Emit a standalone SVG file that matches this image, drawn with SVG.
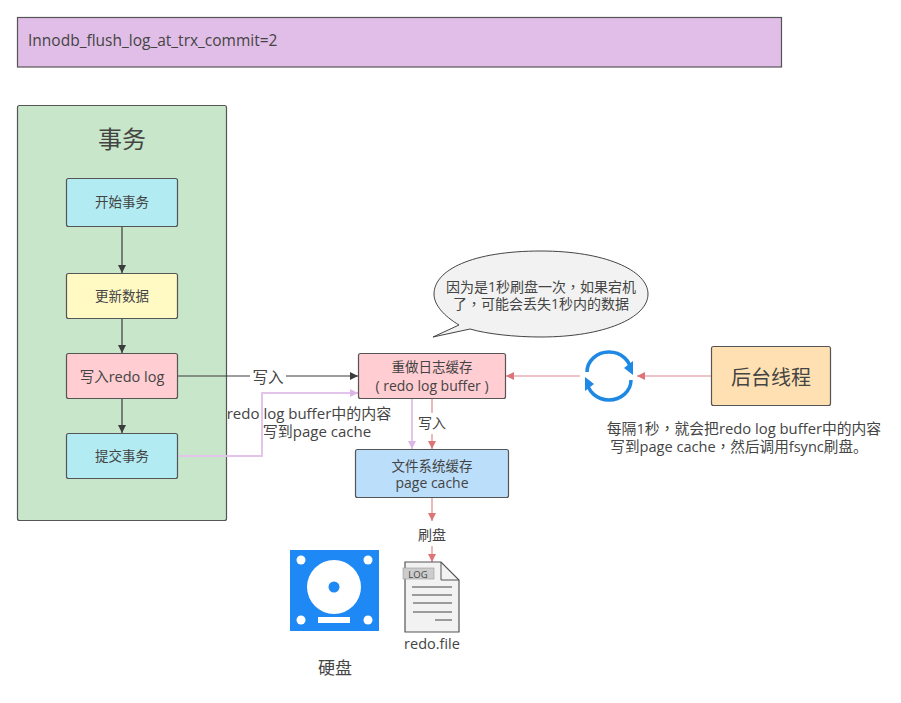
<svg xmlns="http://www.w3.org/2000/svg" width="901" height="703" viewBox="0 0 901 703">
<style>
text{font-family:"Open Sans","Noto Sans CJK SC",sans-serif;fill:#444;text-anchor:middle;font-size:13.500px}
.tc{font-family:"Noto Sans CJK TC",sans-serif}
.l{font-size:15px}
.m{font-size:14px}
.box{stroke:#555;stroke-width:1.200}
.c{fill:none;stroke-width:1.200}
.d{stroke:#3c3c3c}.r{stroke:#e08a8e}.p{stroke:#e3c4ea;stroke-width:2}
</style>
<defs>
<marker id="ad" markerWidth="9" markerHeight="9" refX="8" refY="4" orient="auto" markerUnits="userSpaceOnUse"><path d="M0 0L8 4L0 8Z" fill="#3c3c3c"/></marker>
<marker id="ar" markerWidth="9" markerHeight="9" refX="8" refY="4" orient="auto" markerUnits="userSpaceOnUse"><path d="M0 0L8 4L0 8Z" fill="#dd7478"/></marker>
<marker id="ap" markerWidth="9" markerHeight="9" refX="8" refY="4" orient="auto" markerUnits="userSpaceOnUse"><path d="M0 0L8 4L0 8Z" fill="#dcb6e6"/></marker>
</defs>
<rect width="901" height="703" fill="#fff"/>
<g id="title"><rect class="box" x="17.500" y="17.500" width="764" height="49.500" fill="#e1bee7"/><text x="28" y="46" style="text-anchor:start;font-size:15.500px">Innodb_flush_log_at_trx_commit=2</text></g>
<g id="txn"><rect class="box" x="17.500" y="105.500" width="209" height="415" rx="2" fill="#c8e6c9"/><text x="122" y="148" style="font-size:24px">事务</text></g>
<g id="connectors">
<path class="c d" d="M122 227V273" marker-end="url(#ad)"/>
<path class="c d" d="M122 318V353" marker-end="url(#ad)"/>
<path class="c d" d="M122 398V433" marker-end="url(#ad)"/>
<path class="c d" d="M178 376H250M286 376H358" marker-end="url(#ad)"/>
<path class="c p" d="M178 456H262V393H358" marker-end="url(#ap)"/>
<path class="c p" d="M412 398V449" marker-end="url(#ap)"/>
<path class="c r" d="M432 398V413M432 434V449" marker-end="url(#ar)"/>
<path class="c r" d="M432 498V521" marker-end="url(#ar)"/>
<path class="c r" d="M432 546V562" marker-end="url(#ar)"/>
<path class="c r" d="M580 376H506" marker-end="url(#ar)"/>
<path class="c r" d="M711 376H637" marker-end="url(#ar)"/>
</g>
<g id="start"><rect class="box" x="66.500" y="178.500" width="111" height="48" rx="2" fill="#b2ebf2"/><text x="122" y="207">开始事务</text></g>
<g id="update"><rect class="box" x="66.500" y="273.500" width="111" height="45" rx="2" fill="#fff9c4"/><text x="122" y="301">更新数据</text></g>
<g id="write"><rect class="box" x="66.500" y="353.500" width="111" height="45" rx="2" fill="#ffcdd2"/><text x="122" y="382" style="font-size:14.500px">写入redo log</text></g>
<g id="commit"><rect class="box" x="66.500" y="433.500" width="111" height="45" rx="2" fill="#b2ebf2"/><text x="122" y="461">提交事务</text></g>
<g id="redobuf"><rect class="box" x="358.500" y="353.500" width="147" height="45" rx="2" fill="#ffcdd2"/><text x="432" y="372">重做日志缓存<tspan class="m" x="432" y="391">( redo log buffer )</tspan></text></g>
<g id="pagecache"><rect class="box" x="355.500" y="449.500" width="153" height="48" rx="2" fill="#bbdefb"/><text x="432" y="471">文件系统缓存<tspan class="m" x="432" y="488">page cache</tspan></text></g>
<g id="thread"><rect class="box" x="711.500" y="346.500" width="119" height="59" rx="2" fill="#ffe0b2"/><text x="771" y="385" style="font-size:20px">后台线程</text></g>
<g id="bubble"><path d="M433 337L459 325C444 316 434 305 434 294C434 270 472 251 541 251C604 251 648 270 648 294C648 318 604 337 541 337C515 337 487 334 470 329Z" fill="#f2f2f2" stroke="#444"/><text class="m" x="541" y="292">因为是1秒刷盘一次<tspan class="tc">，</tspan>如果宕机<tspan x="541" y="309">了<tspan class="tc">，</tspan>可能会丢失1秒内的数据</tspan></text></g>
<g id="loop" fill="none" stroke="#1e88e5" stroke-width="3.500"><path d="M587 372A22 20 0 0 1 631 372"/><path d="M631 380A22 20 0 0 1 587 380"/><path d="M633 361V375L624 368Z" fill="#1e88e5" stroke="none"/><path d="M585 391V377L594 384Z" fill="#1e88e5" stroke="none"/></g>
<g id="labels">
<text x="268" y="383" style="font-size:15.500px">写入</text>
<text class="l" x="309" y="419">redo log buffer中的内容<tspan x="317" y="437">写到page cache</tspan></text>
<text class="m" x="432" y="428">写入</text>
<text class="m" x="432" y="540">刷盘</text>
<text x="744" y="434" style="font-size:14.800px">每隔1秒<tspan class="tc">，</tspan>就会把redo log buffer中的内容<tspan x="739" y="452" style="font-size:14.600px">写到page cache<tspan class="tc">，</tspan>然后调用fsync刷盘。</tspan></text>
</g>
<g id="disk"><rect x="290" y="550" width="89" height="81" fill="#1e88f5"/><g fill="#fff"><circle cx="301" cy="560" r="4.500"/><circle cx="368" cy="560" r="4.500"/><circle cx="301" cy="620" r="4.500"/><circle cx="368" cy="620" r="4.500"/><circle cx="334" cy="587" r="27"/><rect x="318" y="617" width="32" height="6"/></g><circle cx="334" cy="587" r="5.500" fill="#1e88f5"/><text x="335" y="674" style="font-size:17px">硬盘</text></g>
<g id="file"><path d="M405 562H441L459 580V632H405Z" fill="#f2f2f2" stroke="#555" stroke-width="1.200"/><path d="M441 562V580H459" fill="none" stroke="#555"/><rect x="403" y="568" width="31" height="11" fill="#ccc" stroke="#999" stroke-width=".6"/><text x="418" y="578" style="font-size:9.500px">LOG</text><path d="M412 587H452M412 595H452M413 603H452M413 612H452M435 620H452" stroke="#444"/><text x="432" y="649" style="font-size:14.500px">redo.file</text></g>
</svg>
